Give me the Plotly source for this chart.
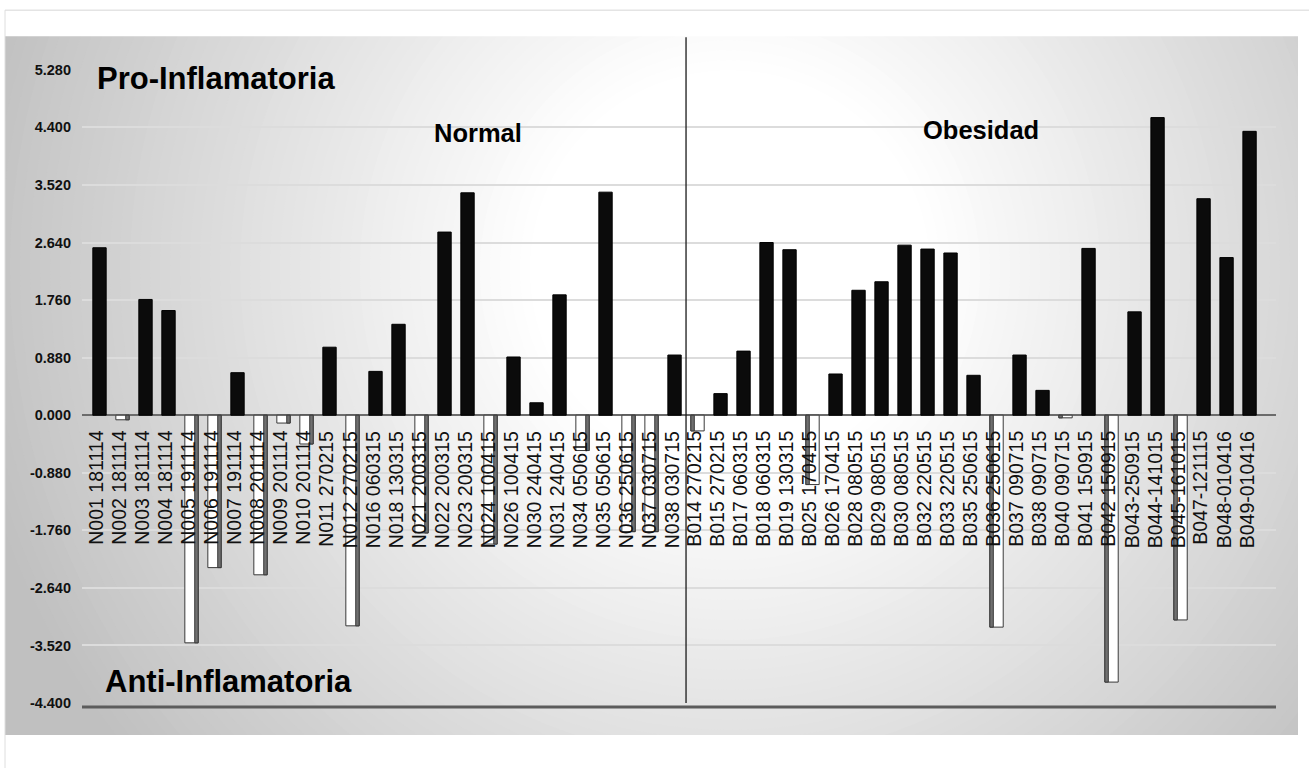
import plotly.graph_objects as go

# page geometry (page pixels): the page adds an 8px band above the figure and
# is shown 768/784 of its height
PAGE_W, PAGE_H = 1309, 768
TOP_BAND = 8
VSCALE = 768 / 784
W = PAGE_W
H = int(round(PAGE_H / VSCALE - TOP_BAND))

# Samples (Normal group first, then Obesidad)
categories = [
    "N001 181114", "N002 181114", "N003 181114", "N004 181114", "N005 191114",
    "N006 191114", "N007 191114", "N008 201114", "N009 201114", "N010 201114",
    "N011 270215", "N012 270215", "N016 060315", "N018 130315", "N021 200315",
    "N022 200315", "N023 200315", "N024 100415", "N026 100415", "N030 240415",
    "N031 240415", "N034 050615", "N035 050615", "N036 250615", "N037 030715",
    "N038 030715",
    "B014 270215", "B015 270215", "B017 060315", "B018 060315", "B019 130315",
    "B025 170415", "B026 170415", "B028 080515", "B029 080515", "B030 080515",
    "B032 220515", "B033 220515", "B035 250615", "B036 250615", "B037 090715",
    "B038 090715", "B040 090715", "B041 150915", "B042 150915", "B043-250915",
    "B044-141015", "B045-161015", "B047-121115", "B048-010416", "B049-010416",
]

values = [
    2.56, -0.07, 1.77, 1.60, -3.48,
    -2.33, 0.65, -2.44, -0.12, -0.44,
    1.04, -3.22, 0.67, 1.39, -1.80,
    2.80, 3.40, -1.97, 0.89, 0.19,
    1.84, -0.54, 3.41, -1.78, -1.78,
    0.92,
    -0.24, 0.33, 0.98, 2.64, 2.53,
    -1.06, 0.63, 1.91, 2.04, 2.60,
    2.54, 2.48, 0.61, -3.24, 0.92,
    0.38, -0.04, 2.55, -4.08, 1.58,
    4.55, -3.13, 3.31, 2.41, 4.34,
]

group_names = ["Normal", "Obesidad"]
n_normal = 26

y_tickvals = [5.28, 4.40, 3.52, 2.64, 1.76, 0.88, 0.0, -0.88, -1.76, -2.64, -3.52, -4.40]
y_ticktext = ["5.280", "4.400", "3.520", "2.640", "1.760", "0.880", "0.000",
              "-0.880", "-1.760", "-2.640", "-3.520", "-4.400"]

FONT = "Liberation Sans, Arial, sans-serif"


def px(x):
    """page x pixel -> paper fraction"""
    return x / W


def py(y):
    """page y pixel -> paper fraction"""
    return 1 - (y / VSCALE - TOP_BAND) / H


idx = list(range(len(categories)))

fig = go.Figure()

# main bars: positive solid black, negative hollow white
fig.add_trace(go.Bar(
    x=idx, y=values, width=0.58,
    marker=dict(
        color=["#0b0b0b" if v >= 0 else "#ffffff" for v in values],
        line=dict(color=["#000000" if v >= 0 else "#3a3a3a" for v in values], width=1),
    ),
    hoverinfo="skip",
))

# shaded side face of the hollow bars (faces the centre of the chart)
fig.add_trace(go.Bar(
    x=idx, y=[v if v < 0 else None for v in values], width=0.15,
    offset=[0.14 if i < n_normal else -0.29 for i in idx],
    marker=dict(color="#707070", line=dict(color="#3a3a3a", width=1)),
    hoverinfo="skip",
))

shapes = []

# panel background: radial grey-to-white gradient built from concentric ellipses
panel = (5, 36, 1298, 735)
shapes.append(dict(type="rect", xref="paper", yref="paper", layer="below",
                   x0=px(panel[0]), x1=px(panel[2]), y0=py(panel[3]), y1=py(panel[1]),
                   fillcolor="rgb(192,192,192)", line=dict(width=0)))
cx, cy, sx = 730, 270, 1.0
r_out, r_in, step = 780, 200, 10
r = r_out
while r >= r_in:
    t = (r - r_in) / (r_out - r_in)
    g = int(round(255 - t * 63))
    shapes.append(dict(type="circle", xref="paper", yref="paper", layer="below",
                       x0=px(cx - r * sx), x1=px(cx + r * sx),
                       y0=py(cy + r), y1=py(cy - r),
                       fillcolor=f"rgb({g},{g},{g})", line=dict(width=0)))
    r -= step
# white page around the panel
for (x0, y0, x1, y1) in [(-50, -50, PAGE_W + 50, panel[1]), (-50, panel[3], PAGE_W + 50, PAGE_H + 50),
                         (-50, -50, panel[0], PAGE_H + 50), (panel[2], -50, PAGE_W + 50, PAGE_H + 50)]:
    shapes.append(dict(type="rect", xref="paper", yref="paper", layer="below",
                       x0=px(x0), x1=px(x1), y0=py(y1), y1=py(y0),
                       fillcolor="white", line=dict(width=0)))
# sheet borders
shapes.append(dict(type="line", xref="paper", yref="paper", layer="below",
                   x0=px(5), x1=px(PAGE_W), y0=py(10), y1=py(10),
                   line=dict(color="#d6d6d6", width=1)))
shapes.append(dict(type="line", xref="paper", yref="paper", layer="below",
                   x0=px(5), x1=px(5), y0=py(10), y1=py(PAGE_H),
                   line=dict(color="#dedede", width=1)))

# floor of the chart
shapes.append(dict(type="line", xref="paper", yref="paper",
                   x0=px(82), x1=px(1276), y0=py(707), y1=py(707),
                   line=dict(color="#5c5c5c", width=3)))

# divider between the two groups
shapes.append(dict(type="line", xref="x", yref="paper",
                   x0=n_normal - 0.5, x1=n_normal - 0.5, y0=py(37), y1=py(703),
                   line=dict(color="#1a1a1a", width=1.3)))

annotations = []
for i, name in enumerate(categories):
    annotations.append(dict(
        x=i, y=0, xref="x", yref="y", text=name, textangle=-90,
        showarrow=False, xanchor="center", yanchor="top", yshift=-14, xshift=-3,
        font=dict(family=FONT, size=19.5, color="#111111"),
    ))

titles = [
    ("Pro-Inflamatoria", 95, 78, 31),
    ("Anti-Inflamatoria", 103, 681, 31),
    (group_names[0], 432, 133, 25.5),
    (group_names[1], 921, 130, 25.5),
]
for text, x, y, size in titles:
    annotations.append(dict(
        x=px(x), y=py(y), xref="paper", yref="paper", text=f"<b>{text}</b>",
        showarrow=False, xanchor="left", yanchor="middle",
        font=dict(family=FONT, size=size, color="#000000"),
    ))

fig.update_layout(
    width=W, height=H, autosize=False,
    margin=dict(l=0, r=0, t=0, b=0),
    paper_bgcolor="white", plot_bgcolor="rgba(0,0,0,0)",
    showlegend=False, barmode="overlay",
    shapes=shapes, annotations=annotations,
    xaxis=dict(
        domain=[px(82), px(1276)], range=[-0.761, 51.15],
        showgrid=False, zeroline=False, showticklabels=False, ticks="",
        showline=False,
    ),
    yaxis=dict(
        domain=[py(703), py(69.7)], range=[-4.4, 5.28],
        tickvals=y_tickvals, ticktext=[f"<b>{t}</b>" for t in y_ticktext], ticks="",
        ticklabelstandoff=10,
        tickfont=dict(family=FONT, size=14.5, color="#111111"),
        showgrid=True, gridcolor="#dcdcdc", gridwidth=2,
        zeroline=True, zerolinecolor="#6b6b6b", zerolinewidth=2,
        showline=False,
    ),
)

fig.write_html("out.html")
